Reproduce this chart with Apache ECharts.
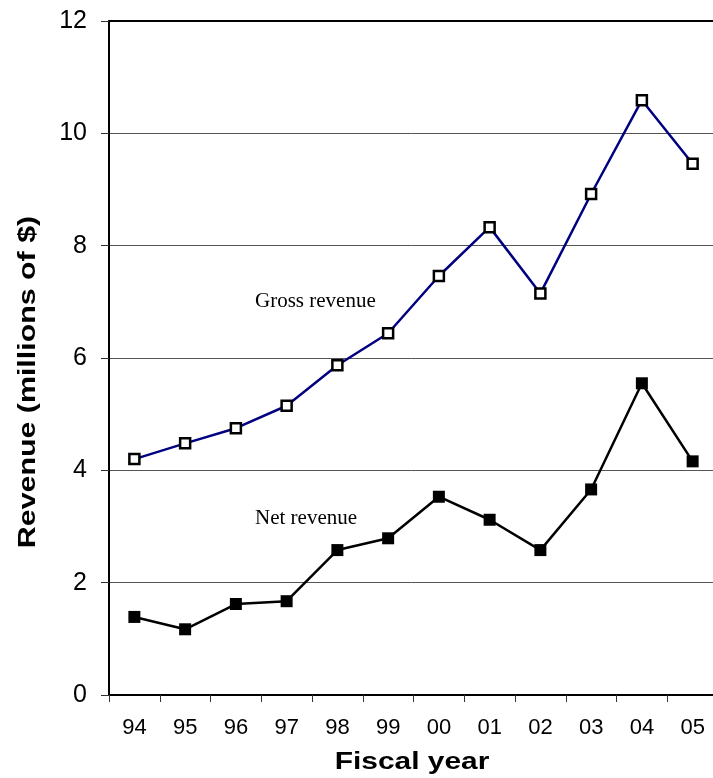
<!DOCTYPE html>
<html>
<head>
<meta charset="utf-8">
<script src="https://cdn.jsdelivr.net/npm/echarts@6/dist/echarts.min.js"></script>
<style>
  html, body { margin: 0; padding: 0; background: #fff; }
  #chart { width: 713px; height: 778px; }
</style>
</head>
<body>
<div id="chart"></div>
<script>
const years = ["94", "95", "96", "97", "98", "99", "00", "01", "02", "03", "04", "05"];
const grossRevenue = [4.20, 4.48, 4.75, 5.15, 5.87, 6.44, 7.46, 8.33, 7.15, 8.92, 10.59, 9.46];
const netRevenue = [1.39, 1.17, 1.62, 1.67, 2.58, 2.79, 3.53, 3.12, 2.58, 3.66, 5.55, 4.16];
const yTicks = { min: 0, max: 12, interval: 2 };

const chart = echarts.init(document.getElementById("chart"));
const sans = "Liberation Sans, Arial, sans-serif";
const serif = "Liberation Serif, Times New Roman, serif";

chart.setOption({
  animation: false,
  // plot runs a little past the right edge of the picture
  grid: { left: 109, width: 609, top: 21, bottom: 83, outerBoundsMode: "none" },
  xAxis: [{
    type: "category",
    data: years,
    boundaryGap: true,
    axisLine: { lineStyle: { color: "#000", width: 2 } },
    axisTick: { show: true, length: 7, lineStyle: { color: "#333", width: 1 } },
    axisLabel: { color: "#000", fontSize: 22, fontFamily: sans, margin: 22 },
    splitLine: { show: false }
  }, {
    // top frame line
    type: "category",
    data: years,
    position: "top",
    axisLine: { lineStyle: { color: "#000", width: 2 } },
    axisTick: { show: false },
    axisLabel: { show: false }
  }],
  yAxis: {
    type: "value",
    min: yTicks.min, max: yTicks.max, interval: yTicks.interval,
    axisLine: { show: true, lineStyle: { color: "#000", width: 2 } },
    axisTick: { show: true, length: 8, lineStyle: { color: "#333", width: 1 } },
    axisLabel: { color: "#000", fontSize: 25, fontFamily: sans, margin: 22 },
    splitLine: { show: true, lineStyle: { color: "#555", width: 1 } }
  },
  graphic: [
    {
      type: "text", x: 29, y: 382, rotation: Math.PI / 2, scaleX: 1.32,
      style: { text: "Revenue (millions of $)", font: "bold 23px " + sans, fill: "#000",
               textAlign: "center", textVerticalAlign: "middle" }
    },
    {
      type: "text", x: 412, y: 763, scaleX: 1.3,
      style: { text: "Fiscal year", font: "bold 23px " + sans, fill: "#000",
               textAlign: "center", textVerticalAlign: "middle" }
    },
    {
      type: "text", x: 255, y: 301,
      style: { text: "Gross revenue", font: "21px " + serif, fill: "#000",
               textAlign: "left", textVerticalAlign: "middle" }
    },
    {
      type: "text", x: 255, y: 518,
      style: { text: "Net revenue", font: "21px " + serif, fill: "#000",
               textAlign: "left", textVerticalAlign: "middle" }
    }
  ],
  series: [
    {
      name: "Gross revenue",
      type: "line",
      data: grossRevenue,
      symbol: "rect",
      symbolSize: 10,
      lineStyle: { color: "#000080", width: 2.5 },
      itemStyle: { color: "#fff", borderColor: "#000", borderWidth: 2.5 }
    },
    {
      name: "Net revenue",
      type: "line",
      data: netRevenue,
      symbol: "rect",
      symbolSize: 12,
      lineStyle: { color: "#000", width: 2.5 },
      itemStyle: { color: "#000", borderColor: "#000", borderWidth: 0 }
    }
  ]
});

window.addEventListener("resize", () => chart.resize());
</script>
</body>
</html>
